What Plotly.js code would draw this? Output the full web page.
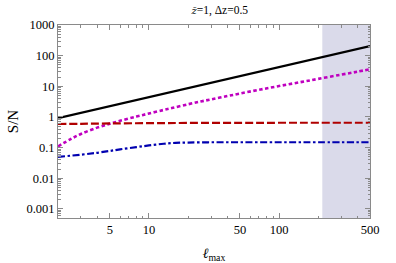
<!DOCTYPE html>
<html>
<head>
<meta charset="utf-8">
<script src="https://cdn.plot.ly/plotly-3.0.1.min.js"></script>
<style>html,body{margin:0;padding:0;background:#fff;}#chart{width:396px;height:263px;}</style>
</head>
<body>
<div id="chart"></div>
<script>
// ell_max values
const ellBlack = [2, 3, 5, 10, 20, 50, 100, 200, 500];
const snBlack  = [0.92, 1.37, 2.26, 4.45, 8.8, 21.6, 42.4, 83.9, 206];

const ellMag = [2, 2.5, 3, 4, 5, 6, 8, 10, 13, 15, 20, 25, 30, 40, 50, 70, 100, 150, 200, 300, 400, 500];
const snMag  = [0.11, 0.19, 0.28, 0.45, 0.6, 0.75, 1.03, 1.3, 1.7, 1.95, 2.6, 3.2, 3.75, 4.8, 5.8, 7.7, 10.2, 14, 17.5, 24, 30, 36];

const ellRed = [2, 3, 5, 10, 20, 50, 100, 200, 500];
const snRed  = [0.59, 0.6, 0.615, 0.63, 0.64, 0.645, 0.648, 0.65, 0.65];

const ellBlue = [2, 3, 4, 5, 6, 8, 10, 13, 16, 20, 30, 50, 100, 200, 500];
const snBlue  = [0.05, 0.059, 0.068, 0.078, 0.088, 0.104, 0.118, 0.134, 0.143, 0.147, 0.15, 0.15, 0.15, 0.15, 0.15];

const shadeRange = [215, 500];

const xTickVals = [5, 10, 50, 100, 500];
const xTickText = ['5', '10', '50', '100', '500'];
const yTickVals = [0.001, 0.01, 0.1, 1, 10, 100, 1000];
const yTickText = ['0.001', '0.01', '0.1', '1', '10', '100', '1000'];

const xMinor = [];
[1, 10, 100].forEach(d => { for (let k = 2; k <= 9; k++) { const v = k * d; if (v >= 2 && v <= 500 && xTickVals.indexOf(v) < 0) xMinor.push(v); } });
const yMinor = [];
[0.0001, 0.001, 0.01, 0.1, 1, 10, 100].forEach(d => { for (let k = 2; k <= 9; k++) yMinor.push(k * d); });

const serif = 'Liberation Serif';
const axCol = '#8a8a8a';

const traces = [
  {x: ellBlack, y: snBlack, mode: 'lines', line: {color: '#000000', width: 2.2}, hoverinfo: 'skip'},
  {x: ellMag, y: snMag, mode: 'lines', line: {color: '#BF00BF', width: 2.6, dash: '3.5px,2.5px', shape: 'spline'}, hoverinfo: 'skip'},
  {x: ellRed, y: snRed, mode: 'lines', line: {color: '#B00000', width: 2.2, dash: '8px,3px', shape: 'spline'}, hoverinfo: 'skip'},
  {x: ellBlue, y: snBlue, mode: 'lines', line: {color: '#0000B0', width: 2.2, dash: '7px,2.5px,2.5px,2.5px', shape: 'spline'}, hoverinfo: 'skip'}
];

const layout = {
  width: 396, height: 263,
  margin: {l: 58, r: 26, t: 25, b: 45},
  paper_bgcolor: '#ffffff', plot_bgcolor: '#ffffff',
  showlegend: false,
  font: {family: serif, size: 12, color: '#000'},
  title: {text: '<span style="font-family:DejaVu Serif;font-style:italic;font-size:10px">z\u0304</span>=1, Δz=0.5', font: {family: serif, size: 11.5, color: '#000'}, x: 0.555, xanchor: 'center', y: 0.962, yanchor: 'middle'},
  xaxis: {
    type: 'log', range: [Math.log10(2), Math.log10(500)],
    tickmode: 'array', tickvals: xTickVals, ticktext: xTickText,
    ticks: 'inside', ticklen: 5, tickcolor: axCol, tickwidth: 1,
    showline: true, linecolor: axCol, linewidth: 1, mirror: 'allticks',
    showgrid: false, zeroline: false,
    tickfont: {family: serif, size: 12.5, color: '#000'},
    minor: {tickmode: 'array', tickvals: xMinor, ticks: 'inside', ticklen: 2.5, tickcolor: axCol, showgrid: false},
    title: {text: '<i>ℓ</i><sub>max</sub>', font: {family: serif, size: 14, color: '#000'}, standoff: 12}
  },
  yaxis: {
    type: 'log', range: [-3.294, 3],
    tickmode: 'array', tickvals: yTickVals, ticktext: yTickText,
    ticks: 'inside', ticklen: 5, tickcolor: axCol, tickwidth: 1,
    showline: true, linecolor: axCol, linewidth: 1, mirror: 'allticks',
    showgrid: false, zeroline: false,
    tickfont: {family: serif, size: 12.5, color: '#000'},
    minor: {tickmode: 'array', tickvals: yMinor, ticks: 'inside', ticklen: 2.5, tickcolor: axCol, showgrid: false},
    title: {text: 'S/N', font: {family: serif, size: 15, color: '#000'}, standoff: 4}
  },
  shapes: [{type: 'rect', xref: 'x', yref: 'paper', x0: shadeRange[0], x1: shadeRange[1], y0: 0, y1: 1, fillcolor: '#DADAEA', line: {width: 0}, layer: 'below'}]
};

Plotly.newPlot('chart', traces, layout, {staticPlot: true, displayModeBar: false});
</script>
</body>
</html>
